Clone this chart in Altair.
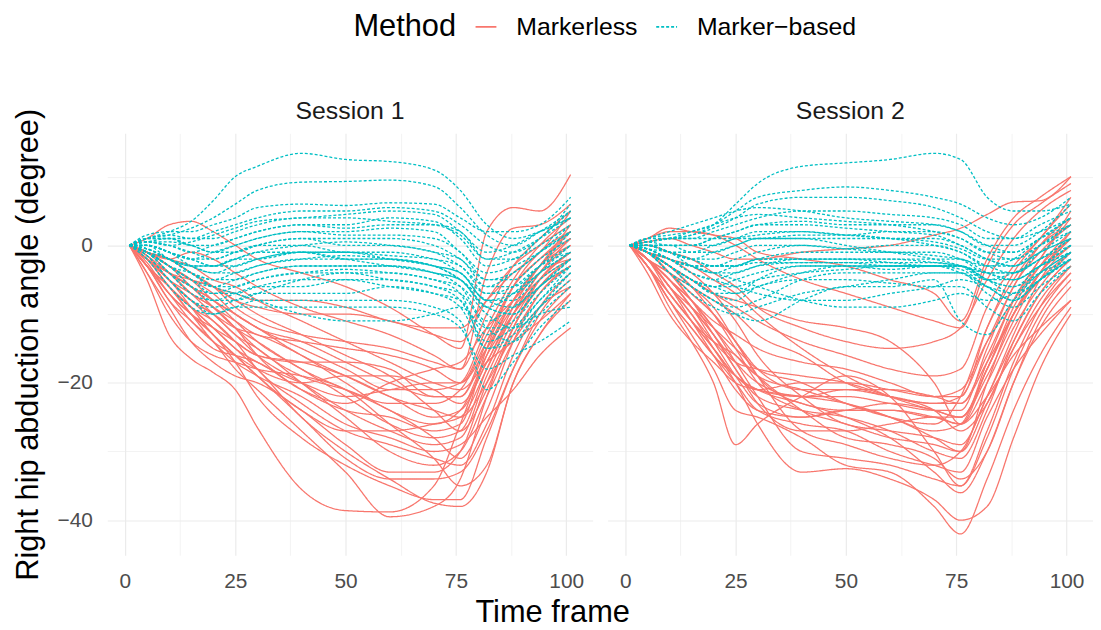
import altair as alt
import pandas as pd

# ---------------- data ----------------
FRAMES = [1, 5, 10, 15, 20, 25, 30, 40, 50, 60, 70, 76, 82, 88, 94, 101]
SESSIONS = ["Session 1", "Session 2"]
METHODS = ["Markerless", "Marker\u2212based"]

S1_MARKERLESS = [
    [0, -5, -13, -16.5, -18.5, -21, -26.5, -35.5, -38.6, -38.8, -35, -26, -16, -8, -3, 0],
    [0, -3, -8, -11, -14, -18, -21, -27, -33, -39.5, -38, -34, -22, -12, -6, -2],
    [0, -2, -6, -9, -12, -15, -18, -25, -30, -34, -37.5, -38, -33, -20, -13, -8],
    [0, -2.5, -7, -10, -13, -17, -22, -28, -32, -35, -37, -37, -28, -18, -10, -5],
    [0, -4, -9, -14, -17, -19, -20, -24, -29, -33, -33, -30, -20, -12, -5, -1],
    [0, -1.5, -5, -8, -10, -13, -15, -20, -25, -30, -32, -30, -22, -14, -9, -6],
    [0, -3, -6, -10, -14, -17, -19, -22, -26, -28, -30, -29, -25, -21, -16, -12],
    [0, -2, -4, -6, -8, -11, -14, -18, -22, -26, -28, -27, -18, -10, -4, 0],
    [0, -1, -4, -7, -9, -12, -16, -21, -24, -25, -27, -26, -15, -6, -1, 2],
    [0, -2, -5, -8, -11, -14, -16, -17, -19, -22, -25, -24, -17, -10, -6, -3],
    [0, -3, -7, -10, -12, -14, -16, -17, -17, -18, -22, -22, -14, -6, -2, 1],
    [0, -1, -3, -5, -7, -10, -12, -15, -18, -21, -21, -20, -12, -5, 0, 4],
    [0, -2, -5, -7, -9, -11, -13, -14, -15, -16, -18, -20, -13, -6, -2, 2],
    [0, 1, 3, 3.5, 2, 0, -2, -4, -6, -9, -13, -15, 2, 5.5, 5, 10.3],
    [0, -1, -2, -1, -2, -4, -6, -9, -11, -13, -16, -18, -4, 2.5, 3, 6],
    [0, -2, -4, -5, -6, -8, -9, -10, -10, -11, -13, -14, -8, -3, 0, 3],
    [0, -1, -2, -4, -6, -7, -8, -8, -9, -11, -12, -12, -8, -4, -1, 5],
    [0, -3, -8, -12, -15, -16, -17, -21, -23, -20, -18, -17, -12, -8, -4, -2],
    [0, -2, -6, -9, -11, -14, -18, -23, -27, -29, -31, -32, -26, -16, -9, -4],
    [0, -2, -4, -6, -9, -12, -15, -19, -21, -23, -23, -21, -14, -8, -3, 1],
    [0, -1, -3, -5, -6, -8, -10, -13, -16, -19, -24, -27, -21, -12, -6, -2],
    [0, -2, -5, -8, -10, -12, -13, -16, -20, -24, -26, -24, -16, -10, -5, -1],
    [0, -1, -2, -3, -5, -6, -8, -11, -14, -17, -20, -21, -17, -14, -11, -7],
    [0, -3, -6, -9, -12, -15, -17, -20, -22, -21, -20, -20, -15, -9, -5, -2],
    [0, -2, -4, -7, -10, -13, -16, -20, -24, -27, -29, -28, -19, -11, -5, -1],
    [0, -1.5, -4, -6, -8, -10, -12, -14, -17, -20, -22, -22, -15, -8, -3, 3],
    [0, -4, -10, -14, -16, -17, -18, -19, -21, -26, -31, -35, -32, -20, -13, -7],
    [0, -2, -5, -9, -13, -16, -19, -24, -27, -27, -26, -25, -18, -10, -4, 1],
    [0, -1, -3, -6, -9, -12, -14, -18, -21, -24, -28, -31, -24, -14, -7, -3],
    [0, -3, -7, -11, -14, -16, -18, -20, -19, -19, -21, -23, -17, -9, -3, 2],
    [0, -1, -2, -4, -6, -9, -11, -13, -14, -15, -17, -18, -10, -3, 1, 5],
    [0, -2, -6, -10, -13, -16, -19, -25, -31, -34, -34, -33, -27, -18, -11, -6],
    [0, -1, -3, -5, -8, -10, -12, -16, -19, -22, -24, -25, -20, -13, -7, -3],
]

S1_MARKER = [
    [0, 1, 2, 3.5, 6.5, 10, 11.5, 13.4, 12.5, 12.2, 11, 8, 3, 1, 2, 4],
    [0, 1, 1.5, 2.5, 4, 6, 8, 9.2, 9.3, 9.5, 8.6, 5.5, 1.5, 0, 2, 5],
    [0, 1.5, 2, 2, 3, 4, 5.5, 6, 5.8, 6.2, 6, 4, 2, 2, 3, 7],
    [0, 1, 1, 1, 2, 3, 4, 5, 5, 5.5, 5, 3, 0, -1, 1, 6],
    [0, 0.5, 0, 0.5, 1.5, 2.5, 3.5, 4, 4.5, 5, 4.5, 2, -1, 0, 2, 4],
    [0, 0.5, 0, -1, 0, 1, 2, 3, 3, 4, 3.5, 1, -3, -2, 0, 3],
    [0, 0, -1, -2, -1, 0, 1, 2, 2, 2.5, 2, -1, -4, -3, -1, 2],
    [0, 0, -1, -2, -2, -1, 0, 1, 1, 1, 0, -2, -5, -5, -2, 1],
    [0, 0, -2, -3, -3, -2, -1, 0, 0.5, 0, -1, -3, -6, -6, -3, 0],
    [0, -0.5, -2, -3, -4, -3, -2, -1, -1, -1.5, -2, -4, -7, -7, -4, -1],
    [0, -1, -3, -4, -5, -4, -3, -2, -1.5, -2, -3, -5, -8, -9, -5, -2],
    [0, -1, -3, -5, -6, -5, -4, -3, -3, -3, -4, -5, -9, -10, -6, -3],
    [0, -1, -4, -6, -7, -6, -5, -4, -4, -4, -5, -6, -10, -12, -8, -4],
    [0, -1, -4, -7, -8, -7, -6, -6, -5, -5, -6, -7, -12, -14, -10, -6],
    [0, -1.5, -5, -8, -9, -8, -7, -7, -7, -6, -7, -9, -15, -13, -9, -5],
    [0, -1.5, -5, -8, -10, -9, -8, -8, -8, -8, -9, -11, -21, -17, -12, -8],
    [0, -2, -6, -9, -10, -9, -9, -9, -9, -9, -10, -12, -18, -16, -14, -11],
    [0, -1, -3, -6, -8, -8, -7, -5, -4, -5, -6, -8, -14, -12, -8, -3],
    [0, 0, -1, -3, -4, -4, -3, -2, -2, -2, -3, -4, -8, -8, -4, 0],
    [0, 0.5, 1, 0, -1, -1, 0, 1, 0, 0, -1, -2, -6, -4, -1, 3],
    [0, 1, 1, 0, 0, 1, 2, 3, 2.5, 3, 3, 2, -2, -2, 1, 5],
    [0, 0.5, 0, -1, -2, -1, 0, 0, -1, -1, -2, -3, -7, -6, -3, -1],
    [0, -0.5, -2, -4, -5, -5, -4, -3, -3, -3, -4, -6, -11, -9, -6, -2],
    [0, 0, -1, -2, -3, -2, -2, -1, -2, -3, -4, -5, -9, -7, -3, 2],
    [0, -1, -2, -4, -6, -7, -8, -10, -11, -11, -10, -9, -12, -12, -10, -9],
    [0, -0.5, -2, -3, -3, -2, -1, -1, -2, -2, -3, -5, -9, -10, -6, -2],
    [0, 1, 1.5, 1, 1, 2, 3, 4, 4, 3.5, 3, 1.5, -2, -1, 1, 4],
    [0, 0, -1, -2, -3, -3, -2, -1, -1, -2, -3, -4, -8, -7, -4, -1],
    [0, -1, -3, -5, -7, -7, -6, -5, -5, -6, -7, -8, -13, -11, -7, -3],
    [0, 0.5, 0.5, 0, -1, 0, 1, 2, 1.5, 1.5, 1, -1, -5, -4, -1, 2],
    [0, -0.5, -2, -4, -6, -6, -5, -4, -3.5, -4, -5, -7, -15, -14, -9, -4],
]

S2_MARKERLESS = [
    [0, -3, -8, -13, -18, -24, -25, -28, -32, -33, -38, -42, -34, -24, -16, -9],
    [0, -2, -6, -10, -15, -20, -26, -33, -32.5, -34, -37, -40, -38, -28, -18, -10],
    [0, -3, -9, -14, -20, -29, -26, -22, -19, -22, -30, -35, -28, -18, -10, -4],
    [0, -2, -5, -8, -12, -17, -22, -30, -31, -32, -34, -35, -27, -17, -9, -3],
    [0, -1, -4, -7, -10, -14, -19, -27, -29, -31, -32, -30, -22, -14, -7, -2],
    [0, -2, -7, -11, -15, -19, -21, -23, -25, -28, -33, -36, -30, -20, -12, -6],
    [0, -4, -10, -14, -17, -20, -21, -22, -23, -25, -28, -30, -20, -10, -4, 0],
    [0, -2, -5, -9, -13, -17, -20, -22, -22, -23, -24, -24, -15, -6, -1, 3],
    [0, -1, -3, -6, -9, -14, -19, -23, -24, -24, -25, -25, -18, -9, -3, 2],
    [0, -2, -4, -7, -10, -14, -18, -21, -21, -22, -23, -23, -16, -8, -2, 5],
    [0, -3, -7, -11, -15, -19, -21, -20, -20, -21, -22, -22, -12, -4, 1, 6],
    [0, -1, -4, -8, -12, -16, -19, -21, -23, -25, -27, -26, -17, -8, -2, 4],
    [0, -2, -6, -10, -14, -17, -18, -19, -20, -22, -24, -27, -23, -15, -9, -4],
    [0, -1, -2, -4, -7, -11, -16, -22, -26, -27, -28, -29, -22, -13, -5, 0],
    [0, -2, -5, -8, -11, -13, -15, -17, -18, -20, -22, -21, -14, -8, -3, 1],
    [0, -1, -3, -5, -7, -9, -11, -14, -16, -18, -19, -18, -9, -3, 1, 7],
    [0, 0, -1, -2, -4, -6, -9, -12, -14, -15, -14, -12, -5, 1, 5, 8],
    [0, 1, 2, 2, 1.5, 0, -2, -5, -7, -9, -11, -12, -3, 3, 6, 9],
    [0, 1, 2.5, 2, 1.5, 1, -1, -2, -3, -5, -7, -11, -2, 4, 7, 10],
    [0, 0.5, 1, 0, -1, -2, -2, -1, -0.5, 0, 1.5, 2.5, 4.5, 6.3, 6.5, 10],
    [0, -1, -3, -5, -7, -8, -9, -11, -12, -14, -20, -26, -18, -10, -5, -1],
    [0, -2, -5, -9, -13, -18, -23, -27, -27, -26, -25, -26, -22, -16, -12, -8],
    [0, -3, -8, -12, -16, -20, -24, -26, -27, -30, -32, -33, -25, -18, -13, -8],
    [0, -2, -4, -6, -8, -10, -13, -16, -20, -22, -23, -22, -14, -6, 0, 4],
    [0, -1, -4, -8, -13, -18, -22, -24, -25, -27, -30, -31, -24, -14, -7, -2],
    [0, -2, -6, -9, -12, -15, -18, -20, -23, -25, -26, -22, -12, -5, 0, 3],
    [0, -2, -6, -11, -16, -21, -24, -25, -24, -24, -25, -26, -20, -12, -6, -1],
    [0, -3, -8, -12, -16, -19, -21, -22, -21, -21, -22, -23, -17, -10, -4, 1],
    [0, -1, -3, -6, -10, -15, -20, -24, -26, -28, -29, -30, -23, -15, -8, -3],
    [0, -2, -5, -9, -14, -19, -23, -25, -24, -23, -24, -25, -18, -10, -4, 2],
    [0, -1, -2, -3, -5, -7, -10, -15, -19, -22, -24, -25, -19, -11, -4, 1],
    [0, -3, -7, -11, -14, -16, -19, -24, -28, -29, -31, -34, -30, -20, -11, -5],
]

S2_MARKER = [
    [0, 0.5, 1, 1.5, 3, 6, 9, 11.5, 12, 12.5, 13.4, 12.5, 7, 5, 5, 6],
    [0, 1, 1.5, 2, 3, 5, 7, 8, 8.5, 8, 7, 6, 4, 3, 4, 7],
    [0, 0.5, 1, 1.5, 2.5, 4, 6, 7, 7, 6.5, 5.5, 4, 2, 1, 2, 4],
    [0, 1, 1, 1, 2, 3, 4, 5, 5, 4.5, 4, 3, 1, 1, 3, 5],
    [0, 0.5, 0, 0, 1, 2, 3, 3.5, 3, 3, 3, 2, 0, -1, 1, 3],
    [0, 0, -1, -1, 0, 1, 2, 2, 1.5, 2, 2, 1, -1, -2, 0, 2],
    [0, 0, -1, -2, -1, 0, 1, 1, 1, 1, 1, 0, -2, -3, -1, 1],
    [0, -0.5, -2, -3, -3, -2, -1, 0, -0.5, 0, 0, -1, -3, -4, -2, 0],
    [0, -0.5, -2, -4, -5, -4, -3, -2, -2, -2, -2, -2, -4, -5, -3, -1],
    [0, -1, -3, -5, -6, -5, -4, -3, -3, -3, -3, -3, -5, -6, -4, -2],
    [0, -1, -3, -5, -7, -7, -5, -3, -3, -3.5, -3, -4, -6, -8, -5, -2],
    [0, -1, -4, -6, -8, -9, -8, -5, -4, -4, -4, -4, -7, -9, -6, -3],
    [0, -1, -3, -6, -8, -10, -11, -8, -6, -6, -5, -11, -13, -8, -5, -2],
    [0, -1, -3, -5, -7, -8, -6, -5, -5, -5.5, -6, -6, -9, -11, -7, -3],
    [0, -0.5, -1, -2, -3, -3, -2, -2, -2, -2.5, -3, -3, -5, -6, -3, 0],
    [0, 0, 0, 0, 1, 2, 3, 3, 2.5, 2, 1.5, 0, -2, -3, 0, 3],
    [0, 0.5, 1, 1, 1, 1, 1, 1.5, 1.5, 1, 0, -1, -3, -2, 1, 4],
    [0, 0, -1, -2, -2, -1, 0, 0, -0.5, -1, -1, -2, -4, -4, -1, 2],
    [0, -1, -2, -4, -5, -6, -7, -8, -8, -7, -6, -5, -6, -7, -5, -2],
    [0, -1, -4, -7, -9, -10, -9, -7, -6, -5, -4, -4, -6, -8, -5, -1],
    [0, 0, -1, -3, -4, -4, -3, -2.5, -2.5, -2.5, -2.5, -3, -4, -5, -3, -1],
    [0, -0.5, -2, -3, -4, -3, -2, -1, -1, -1, -1.5, -2, -3, -3, -1, 1],
    [0, 1, 2, 3, 4, 5, 5.5, 5, 4, 3.5, 3, 2, 0, 0, 2, 6],
    [0, -1, -3, -5, -6, -6, -5, -4, -3.5, -3, -3, -3, -5, -7, -4, -1],
    [0, 0, 0, -1, -1, 0, 1, 1, 0, -1, -2, -3, -5, -4, -2, 1],
    [0, -1, -2, -3, -4, -5, -6, -8, -9, -9, -8, -7, -8, -7, -4, -1],
    [0, -0.5, -2, -3, -3, -3, -2.5, -2.5, -2.5, -3, -3, -3, -5, -5, -3, 0],
    [0, 0, -1, -2, -3, -3, -2, -2, -2, -2, -2.5, -3, -4, -4, -2, 1],
    [0, 0.5, 1, 2, 3, 4, 4.5, 4, 3.5, 3, 2, 1, -1, -1, 1, 4],
    [0, -1, -3, -5, -6, -7, -6, -4, -3, -3, -3, -3.5, -6, -8, -5, -2],
    [0, 0, 0, 0, 0, 1, 1.5, 2, 1.5, 1, 0.5, -0.5, -2, -2, 0, 3],
]

# ---------------- long table ----------------
rows = []
for session, method, curves in [
    (SESSIONS[0], METHODS[0], S1_MARKERLESS),
    (SESSIONS[0], METHODS[1], S1_MARKER),
    (SESSIONS[1], METHODS[0], S2_MARKERLESS),
    (SESSIONS[1], METHODS[1], S2_MARKER),
]:
    for i, curve in enumerate(curves):
        for f, v in zip(FRAMES, curve):
            rows.append({"session": session, "method": method,
                         "curve": f"{method}-{i}", "frame": f, "angle": v})
df = pd.DataFrame(rows)

FONT = "Liberation Sans"
COLORS = ["#F8766D", "#00BFC4"]

x_enc = alt.X(
    "frame:Q",
    scale=alt.Scale(domain=[-4, 106], nice=False, zero=False),
    axis=alt.Axis(
        values=[0, 12.5, 25, 37.5, 50, 62.5, 75, 87.5, 100],
        labelExpr="datum.value % 25 === 0 ? datum.label : ''",
        gridWidth={"condition": {"test": "datum.value % 25 !== 0", "value": 0.6}, "value": 1.2},
        title=None,
    ),
)
y_enc = alt.Y(
    "angle:Q",
    scale=alt.Scale(domain=[-45.1, 16.3], nice=False, zero=False),
    axis=alt.Axis(
        values=[-40, -30, -20, -10, 0, 10],
        labelExpr="datum.value % 20 === 0 ? datum.label : ''",
        gridWidth={"condition": {"test": "datum.value % 20 !== 0", "value": 0.6}, "value": 1.2},
        title="Right hip abduction angle (degree)",
    ),
)
legend = alt.Legend(
    title="Method",
    orient="none",
    direction="horizontal",
    legendX=248,
    legendY=-120,
    titleOrient="left",
)
color_enc = alt.Color("method:N", scale=alt.Scale(domain=METHODS, range=COLORS), legend=legend)
dash_enc = alt.StrokeDash("method:N", scale=alt.Scale(domain=METHODS, range=[[1, 0], [3, 2]]),
                          legend=legend)

red = alt.Chart().mark_line(interpolate="monotone", strokeWidth=1.3, clip=True).encode(
    x=x_enc, y=y_enc, color=color_enc, strokeDash=dash_enc, detail="curve:N"
).transform_filter(alt.datum.method == METHODS[0])

teal = alt.Chart().mark_line(interpolate="monotone", strokeWidth=1.3, clip=True).encode(
    x=x_enc, y=y_enc, color=color_enc, strokeDash=dash_enc, detail="curve:N"
).transform_filter(alt.datum.method == METHODS[1])

chart = alt.layer(red, teal).properties(width=489, height=425).facet(
    column=alt.Column(
        "session:N",
        title=None,
        header=alt.Header(labelFontSize=25, labelColor="#1A1A1A", labelFont=FONT, labelPadding=9),
    ),
    data=df,
    spacing=15,
).properties(
    title=alt.TitleParams("Time frame", orient="bottom", anchor="middle", fontSize=31,
                          font=FONT, fontWeight="normal", color="#000000", offset=7),
    padding={"left": 4, "top": 4, "right": 0, "bottom": 0},
).configure_view(stroke=None).configure_axis(
    domain=False, ticks=False, labelFont=FONT, labelFontSize=21, labelColor="#4D4D4D",
    labelPadding=15, gridColor="#EBEBEB", titleFont=FONT, titleFontSize=31,
    titleFontWeight="normal", titleColor="#000000", titlePadding=13,
).configure_legend(
    titleFont=FONT, titleFontSize=31, titleFontWeight="normal", titleColor="#000000",
    titleLimit=400, labelFont=FONT, labelFontSize=25, labelColor="#000000", labelLimit=400,
    symbolType="stroke", symbolSize=441, symbolStrokeWidth=1.6,
    labelOffset=18, columnPadding=14, titlePadding=17,
)

chart.save("out.html", embed_options={"renderer": "svg", "actions": False})
